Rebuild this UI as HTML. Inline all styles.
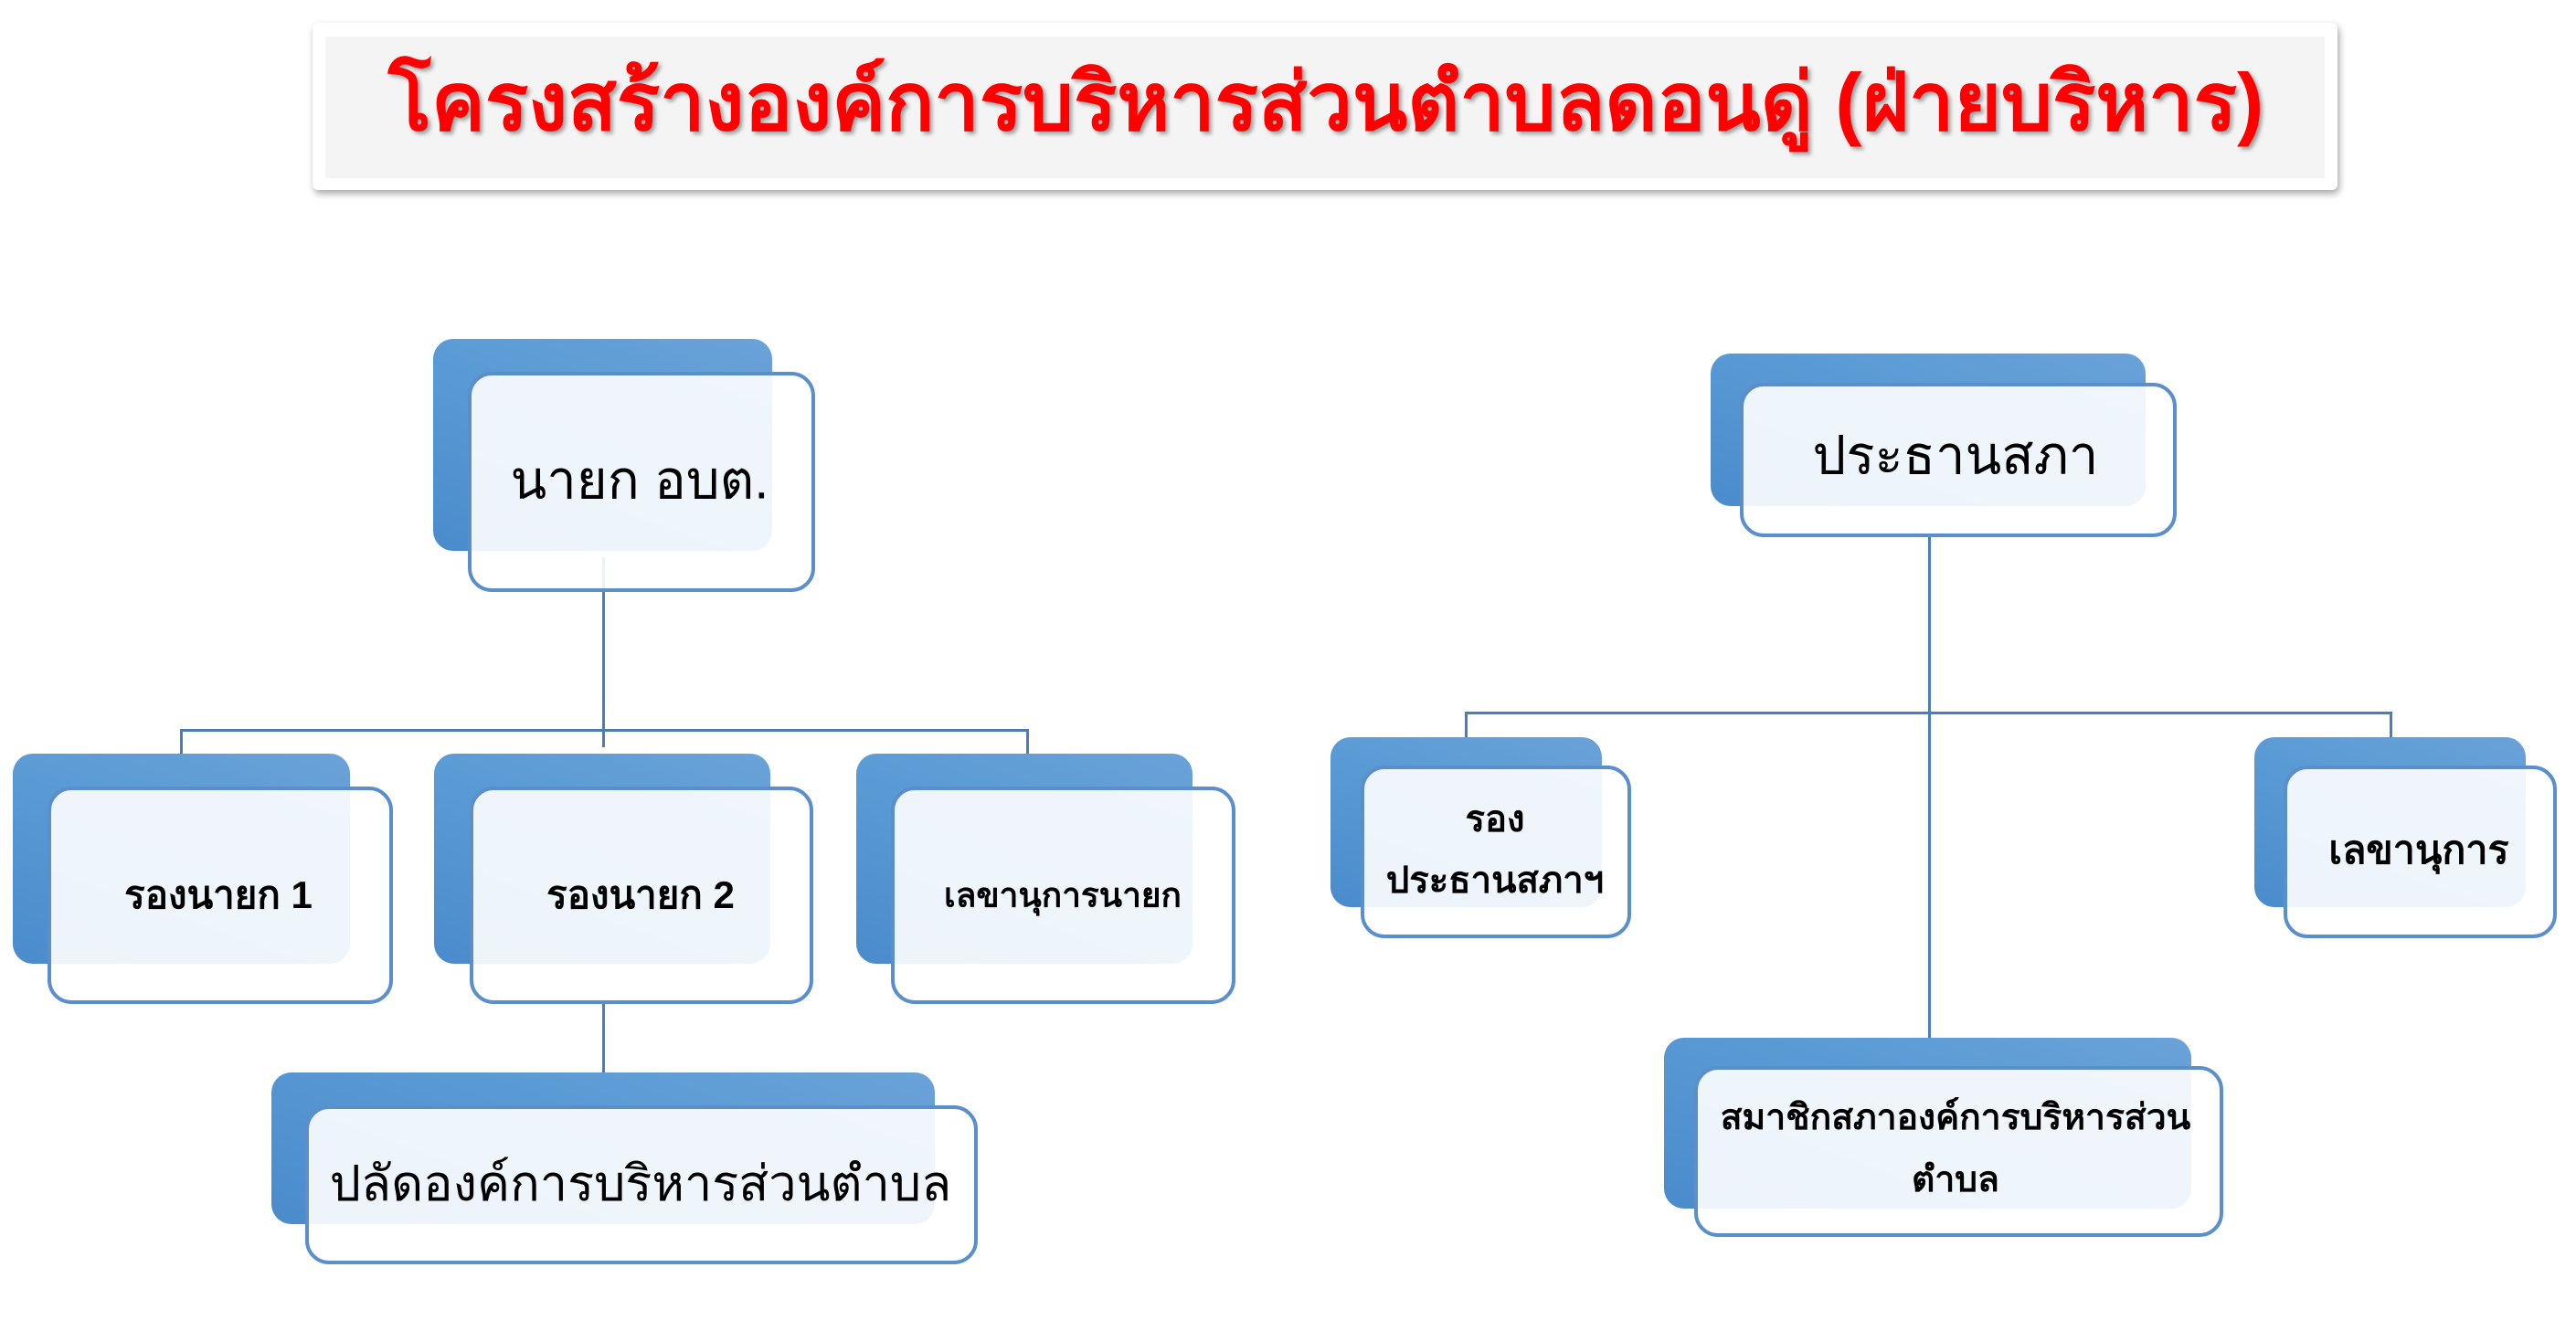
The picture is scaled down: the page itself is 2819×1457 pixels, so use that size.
<!DOCTYPE html>
<html><head><meta charset="utf-8"><style>
body{margin:0;width:2819px;height:1457px;background:#fff;position:relative;overflow:hidden;font-family:"Liberation Sans","DejaVu Sans","Noto Sans CJK SC",sans-serif;}
.b{position:absolute;border-radius:22px;background:linear-gradient(200deg,#6aa2d8,#5b9bd5 40%,#4a8bcc);}
.f{position:absolute;border-radius:26px;border:4px solid #5b8fcb;background:rgba(255,255,255,0.9);box-sizing:border-box;}
.t{position:absolute;transform:translate(-50%,-50%);white-space:nowrap;color:#000;text-align:center;}
.s{font-weight:bold;}
.l{position:absolute;background:#4a7eb5;}
</style></head><body>
<div style="position:absolute;left:342px;top:25px;width:2216px;height:183px;background:#fff;border-radius:6px;box-shadow:2px 4px 8px rgba(0,0,0,0.35);"></div>
<div style="position:absolute;left:356px;top:40px;width:2188px;height:155px;background:#f4f4f4;"></div>
<div class="t" style="left:1451px;top:111px;font-size:88px;font-weight:bold;color:#ff0000;text-shadow:3px 3px 4px rgba(0,0,0,0.35);">โครงสร้างองค์การบริหารส่วนตำบลดอนดู่ (ฝ่ายบริหาร)</div>

<div class="l" style="left:659px;top:610px;width:3px;height:208px;"></div>
<div class="l" style="left:197px;top:798px;width:929px;height:3px;"></div>
<div class="l" style="left:197px;top:798px;width:3px;height:30px;"></div>
<div class="l" style="left:1123px;top:798px;width:3px;height:30px;"></div>
<div class="l" style="left:659px;top:1095px;width:3px;height:80px;"></div>
<div class="l" style="left:2110px;top:585px;width:3px;height:552px;"></div>
<div class="l" style="left:1603px;top:779px;width:1015px;height:3px;"></div>
<div class="l" style="left:1603px;top:779px;width:3px;height:30px;"></div>
<div class="l" style="left:2615px;top:779px;width:3px;height:30px;"></div>

<div class="b" style="left:474px;top:371px;width:371px;height:232px;"></div>
<div class="f" style="left:512px;top:407px;width:380px;height:241px;"></div>
<div class="t" style="left:700px;top:525px;font-size:58px;">นายก อบต.</div>

<div class="b" style="left:14px;top:825px;width:369px;height:230px;"></div>
<div class="f" style="left:52px;top:861px;width:378px;height:238px;"></div>
<div class="t s" style="left:239px;top:980px;font-size:42px;">รองนายก 1</div>

<div class="b" style="left:475px;top:825px;width:368px;height:230px;"></div>
<div class="f" style="left:514px;top:861px;width:376px;height:238px;"></div>
<div class="t s" style="left:701px;top:980px;font-size:42px;">รองนายก 2</div>

<div class="b" style="left:937px;top:825px;width:368px;height:230px;"></div>
<div class="f" style="left:975px;top:861px;width:377px;height:238px;"></div>
<div class="t s" style="left:1163px;top:980px;font-size:37px;">เลขานุการนายก</div>

<div class="b" style="left:297px;top:1174px;width:726px;height:166px;"></div>
<div class="f" style="left:334px;top:1210px;width:736px;height:174px;"></div>
<div class="t" style="left:701px;top:1295px;font-size:54px;">ปลัดองค์การบริหารส่วนตำบล</div>

<div class="b" style="left:1872px;top:387px;width:476px;height:167px;"></div>
<div class="f" style="left:1904px;top:419px;width:478px;height:169px;"></div>
<div class="t" style="left:2140px;top:498px;font-size:58px;">ประธานสภา</div>

<div class="b" style="left:1456px;top:807px;width:297px;height:186px;"></div>
<div class="f" style="left:1489px;top:838px;width:296px;height:189px;"></div>
<div class="t s" style="left:1636px;top:896px;font-size:40px;">รอง</div>
<div class="t s" style="left:1636px;top:963px;font-size:40px;">ประธานสภาฯ</div>

<div class="b" style="left:2467px;top:807px;width:297px;height:186px;"></div>
<div class="f" style="left:2499px;top:838px;width:299px;height:189px;"></div>
<div class="t s" style="left:2647px;top:930px;font-size:43px;">เลขานุการ</div>

<div class="b" style="left:1821px;top:1136px;width:577px;height:187px;"></div>
<div class="f" style="left:1854px;top:1167px;width:579px;height:187px;"></div>
<div class="t s" style="left:2140px;top:1223px;font-size:39px;">สมาชิกสภาองค์การบริหารส่วน</div>
<div class="t s" style="left:2140px;top:1291px;font-size:39px;">ตำบล</div>
</body></html>
